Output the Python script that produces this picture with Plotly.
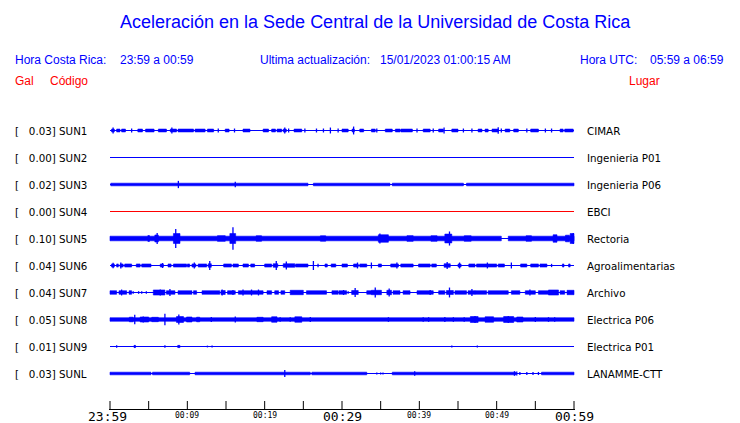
import plotly.graph_objects as go

# ---------------- data ----------------
STATIONS = ["SUN1", "SUN2", "SUN3", "SUN4", "SUN5", "SUN6", "SUN7", "SUN8", "SUN9", "SUNL"]
PEAK_GAL = ["0.03", "0.00", "0.02", "0.00", "0.10", "0.04", "0.04", "0.05", "0.01", "0.03"]
PLACES = ["CIMAR", "Ingenieria P01", "Ingenieria P06", "EBCI", "Rectoria",
          "Agroalimentarias", "Archivo", "Electrica P06", "Electrica P01", "LANAMME-CTT"]

# time axis: minutes after 23:59 (local)
TICK_MINUTES = [0, 5, 10, 15, 20, 25, 30, 35, 40, 45, 50, 55, 60]
BIG_LABELS = {0: "23:59", 30: "00:29", 60: "00:59"}
SMALL_LABELS = {10: "00:09", 20: "00:19", 40: "00:39", 50: "00:49"}

TITLE = "Aceleración en la Sede Central de la Universidad de Costa Rica"

# envelopes: (start_min, end_min, half_amplitude_gal)
sun1_bursts = [(0.2, 0.56, .013), (0.86, 1.29, .013), (1.5, 2.0, .013), (3.6, 4.2, .013), (4.6, 5.7, .013),
               (6.25, 7.3, .013), (7.8, 8.6, .013), (8.8, 10.8, .013), (11.0, 12.3, .013), (12.6, 13.4, .013),
               (14.9, 15.4, .013), (17.2, 18.1, .013), (19.8, 20.5, .013), (20.9, 21.4, .013), (21.6, 22.2, .013),
               (22.4, 22.8, .013), (23.8, 24.8, .013), (30.0, 30.8, .013), (31.3, 31.6, .013), (32.3, 32.8, .013),
               (33.8, 34.3, .013), (35.6, 36.5, .013), (36.9, 37.5, .013), (37.6, 39.1, .013), (40.5, 41.4, .013),
               (42.5, 43.1, .013), (44.2, 45.0, .013), (47.6, 48.1, .013), (48.5, 48.9, .013), (49.4, 50.2, .013),
               (51.1, 51.7, .013), (52.2, 52.8, .013), (54.4, 55.4, .013), (58.2, 58.6, .013), (58.8, 59.9, .013)]
sun1_spikes = [(0.4, .027), (2.8, .018), (8.0, .027), (14.0, .018), (16.1, .018), (22.6, .027), (23.1, .018),
               (25.2, .018), (26.7, .018), (27.6, .018), (28.5, .027), (29.5, .018), (31.5, .036), (34.5, .018),
               (39.7, .018), (41.8, .018), (43.2, .027), (45.7, .018), (46.8, .018), (50.2, .030), (50.6, .018),
               (53.9, .018), (56.3, .018), (57.1, .018)]

sun2_bursts = []
sun2_spikes = []

sun3_bursts = [(0.1, 25.6, .012), (26.3, 36.2, .012), (36.5, 45.7, .012), (46.1, 60.0, .012)]
sun3_spikes = [(8.84, .033), (16.2, .025)]

sun4_bursts = []
sun4_spikes = []

sun5_bursts = [(0.0, 50.6, .021), (51.5, 60.0, .021), (4.9, 5.1, .027), (5.8, 6.25, .032), (8.2, 9.05, .045),
               (13.9, 14.9, .026), (15.5, 16.25, .045), (18.9, 19.6, .025), (27.2, 27.9, .024),
               (34.7, 36.0, .034), (38.4, 39.2, .026), (41.5, 42.3, .025), (43.3, 44.2, .040),
               (45.8, 46.7, .025), (53.8, 54.5, .025), (57.3, 57.8, .034), (58.9, 59.4, .030), (59.5, 60.0, .045)]
sun5_spikes = [(6.1, .050), (8.5, .086), (15.9, .103), (34.9, .045), (43.9, .064), (59.9, .050)]

sun6_bursts = [(0.2, 0.56, .014), (0.86, 1.08, .014), (1.3, 1.7, .014), (1.9, 2.8, .014), (3.4, 3.9, .014),
               (4.1, 5.3, .014), (6.5, 6.9, .014), (7.5, 7.9, .014), (8.2, 9.9, .014), (10.0, 10.3, .014),
               (10.6, 11.1, .014), (11.4, 12.5, .014), (12.7, 13.1, .016), (14.7, 15.7, .014), (15.9, 16.6, .014),
               (17.2, 17.9, .014), (18.2, 18.7, .014), (20.0, 20.9, .014), (21.1, 21.7, .016), (22.4, 23.9, .016),
               (24.0, 25.6, .014), (27.8, 28.1, .014), (28.6, 29.2, .014), (30.0, 30.7, .014), (31.5, 32.1, .014),
               (32.3, 33.2, .014), (34.7, 35.1, .014), (36.3, 37.3, .014), (37.6, 39.2, .014), (39.9, 41.4, .014),
               (41.6, 42.2, .014), (43.2, 44.0, .016), (45.0, 45.4, .014), (46.4, 47.2, .014), (47.4, 50.0, .014),
               (50.2, 51.0, .014), (53.1, 53.9, .014), (54.4, 55.4, .014), (55.6, 56.5, .014), (58.5, 58.7, .014),
               (59.3, 59.5, .014)]
sun6_spikes = [(0.4, .025), (1.4, .027), (6.8, .023), (10.9, .027), (12.9, .041), (21.5, .041), (22.8, .036),
               (26.3, .041), (26.9, .015), (32.0, .027), (33.8, .027), (37.1, .027), (43.6, .032), (45.2, .027),
               (48.8, .027), (51.9, .027), (57.1, .015)]

sun7_bursts = [(0.0, 0.86, .016), (1.16, 2.16, .016), (2.46, 2.8, .016), (5.6, 7.1, .023), (7.3, 8.4, .016),
               (8.8, 10.6, .016), (10.8, 11.2, .016), (11.9, 14.2, .016), (14.35, 14.9, .018), (15.2, 16.2, .016),
               (16.6, 19.8, .016), (20.3, 20.9, .016), (21.3, 21.8, .016), (22.1, 22.6, .016), (23.3, 25.0, .020),
               (25.4, 28.0, .016), (28.7, 29.5, .016), (29.6, 30.6, .016), (31.25, 32.1, .018), (33.2, 33.8, .016),
               (33.8, 35.1, .020), (35.8, 36.4, .020), (36.6, 37.5, .016), (37.9, 38.8, .016), (39.7, 41.8, .016),
               (42.5, 43.3, .016), (43.5, 44.4, .018), (44.6, 46.1, .016), (46.3, 47.2, .016), (47.2, 48.7, .016),
               (48.9, 51.5, .016), (51.9, 53.0, .016), (53.7, 55.0, .016), (55.4, 56.7, .016), (56.7, 58.0, .023),
               (58.2, 58.8, .016), (59.1, 60.0, .020)]
sun7_spikes = [(1.5, .027), (3.0, .012), (3.7, .012), (4.1, .012), (4.7, .012), (6.5, .027), (7.75, .032),
               (14.5, .027), (15.9, .023), (17.2, .027), (18.3, .027), (19.2, .027), (30.2, .023), (30.8, .012),
               (31.7, .041), (34.3, .045), (36.1, .036), (41.4, .023), (43.9, .045), (46.8, .032), (54.3, .027)]

sun8_bursts = [(0.0, 60.0, .016), (2.5, 3.0, .021), (3.9, 5.0, .023), (5.4, 6.25, .020), (8.6, 9.5, .027),
               (9.9, 10.6, .023), (11.2, 11.6, .021), (19.0, 19.8, .020), (20.9, 21.6, .025), (23.9, 24.8, .025),
               (46.6, 47.6, .027), (48.5, 49.6, .025), (50.9, 52.2, .027), (52.6, 53.4, .023)]
sun8_spikes = [(3.2, .043), (4.3, .027), (7.1, .052), (8.9, .045), (13.1, .023), (16.2, .027), (22.0, .021),
               (23.3, .021), (25.9, .023), (36.0, .021), (40.5, .021), (41.2, .021), (43.3, .023), (44.4, .021),
               (45.8, .021), (47.2, .032), (51.5, .032), (55.0, .023), (56.7, .021), (57.5, .021)]

sun9_bursts = [(3.1, 3.3, .010), (8.75, 9.05, .010)]
sun9_spikes = [(0.86, .012), (3.2, .012), (7.1, .012), (8.9, .012), (12.6, .008), (13.2, .008),
               (44.2, .008), (47.5, .008)]

sunl_bursts = [(0.0, 5.3, .012), (5.5, 10.3, .012), (11.0, 25.9, .012), (26.1, 33.2, .012),
               (36.5, 52.5, .012), (55.8, 60.0, .012)]
sunl_spikes = [(22.6, .032), (34.5, .010), (35.0, .010), (35.3, .010), (39.4, .021), (52.3, .021),
               (52.6, .018), (53.0, .014), (53.9, .014), (54.7, .014), (55.4, .014)]

BURSTS = [sun1_bursts, sun2_bursts, sun3_bursts, sun4_bursts, sun5_bursts,
          sun6_bursts, sun7_bursts, sun8_bursts, sun9_bursts, sunl_bursts]
SPIKES = [sun1_spikes, sun2_spikes, sun3_spikes, sun4_spikes, sun5_spikes,
          sun6_spikes, sun7_spikes, sun8_spikes, sun9_spikes, sunl_spikes]

# ---------------- layout / style ----------------
W, H = 740, 423
PX_PER_GAL = 110.0
ROW_PX = 27.0
FIRST_ROW_PX = 130.5
PLOT_LEFT, PLOT_RIGHT = 110, 574
AXIS_PX, TOP_PX = 409, 117
TICK_LEN_PX = 8
PAD = 2  # annotation padding compensation (px)
BLUE = "#0000ff"
RED = "#ff0000"
TRACE_COLOR = {"SUN4": RED}
HEAD_FONT = "Liberation Sans, Arial, sans-serif"
LAB_FONT = "DejaVu Sans, sans-serif"
MONO_FONT = "DejaVu Sans Mono, monospace"

spacing = ROW_PX / PX_PER_GAL
y_top = (FIRST_ROW_PX - TOP_PX) / PX_PER_GAL
y_bot = -(AXIS_PX - FIRST_ROW_PX) / PX_PER_GAL
x_pad = 1.0 * 60 / (PLOT_RIGHT - PLOT_LEFT)


def px_x(p):
    return p / W


def px_y(p):
    return 1 - p / H


fig = go.Figure()
annotations = []

for i, name in enumerate(STATIONS):
    c = -i * spacing
    col = TRACE_COLOR.get(name, BLUE)
    fig.add_trace(go.Scatter(x=[0, 60], y=[c, c], mode="lines",
                             line=dict(color=col, width=1.2), hoverinfo="skip", showlegend=False))
    bx, by = [], []
    for t0, t1, a in BURSTS[i]:
        bx += [t0, t1, t1, t0, t0, None]
        by += [c - a, c - a, c + a, c + a, c - a, None]
    if bx:
        fig.add_trace(go.Scatter(x=bx, y=by, mode="lines", fill="toself", fillcolor=col,
                                 line=dict(color=col, width=0.6), hoverinfo="skip", showlegend=False))
    sx, sy = [], []
    for t, a in SPIKES[i]:
        sx += [t, t, None]
        sy += [c - a, c + a, None]
    if sx:
        fig.add_trace(go.Scatter(x=sx, y=sy, mode="lines",
                                 line=dict(color=col, width=1.3), hoverinfo="skip", showlegend=False))
    annotations.append(dict(xref="paper", yref="y", x=px_x(15 - PAD), y=c, xanchor="left", yanchor="middle",
                            text="[\u00a0\u00a0\u00a0" + PEAK_GAL[i] + "]\u00a0" + name, showarrow=False,
                            font=dict(family=LAB_FONT, size=10.3, color="black")))
    annotations.append(dict(xref="paper", yref="y", x=px_x(587 - PAD), y=c, xanchor="left", yanchor="middle",
                            text=PLACES[i], showarrow=False,
                            font=dict(family=LAB_FONT, size=10.3, color="black")))

# time ticks (drawn upward from the axis line)
tick_top = y_bot + TICK_LEN_PX / PX_PER_GAL
tx, ty = [], []
for m in TICK_MINUTES:
    tx += [m, m, None]
    ty += [y_bot, tick_top, None]
fig.add_trace(go.Scatter(x=tx, y=ty, mode="lines", line=dict(color="black", width=1),
                         hoverinfo="skip", showlegend=False))

for m, lab in BIG_LABELS.items():
    annotations.append(dict(xref="x", yref="paper", x=m, y=px_y(416), xanchor="center", yanchor="middle",
                            xshift=-3 if m == 0 else 0,
                            text=lab, showarrow=False, font=dict(family=MONO_FONT, size=13, color="black")))
for m, lab in SMALL_LABELS.items():
    annotations.append(dict(xref="x", yref="paper", x=m, y=px_y(415.5), xanchor="center", yanchor="middle",
                            text=lab, showarrow=False, font=dict(family=MONO_FONT, size=8, color="black")))


def head(text, x, y, color=BLUE, size=12, anchor="left"):
    annotations.append(dict(xref="paper", yref="paper", x=px_x(x - (PAD if anchor == "left" else 0)),
                            y=px_y(y), xanchor=anchor, yanchor="middle", text=text, showarrow=False,
                            font=dict(family=HEAD_FONT, size=size, color=color)))


head(TITLE, 375, 22, size=18, anchor="center")
head("Hora Costa Rica:", 15, 60)
head("23:59 a 00:59", 120, 60)
head("Ultima actualización:", 260, 60)
head("15/01/2023 01:00:15 AM", 380, 60)
head("Hora UTC:", 580, 60)
head("05:59 a 06:59", 650, 60)
head("Gal", 15, 81, color=RED)
head("Código", 50, 81, color=RED)
head("Lugar", 629, 81, color=RED)

fig.update_layout(
    width=W, height=H, margin=dict(l=0, r=0, t=0, b=0),
    paper_bgcolor="white", plot_bgcolor="white",
    showlegend=False, annotations=annotations,
    xaxis=dict(domain=[px_x(PLOT_LEFT - 1), px_x(PLOT_RIGHT + 1)], range=[-x_pad, 60 + x_pad],
               showticklabels=False, ticks="",
               showline=True, linecolor="black", linewidth=1, showgrid=False, zeroline=False,
               fixedrange=True),
    yaxis=dict(domain=[px_y(AXIS_PX), px_y(TOP_PX)], range=[y_bot, y_top], visible=False,
               showgrid=False, zeroline=False, fixedrange=True),
)

fig.write_html("out.html", config={"displayModeBar": False},
               post_script="document.body.style.margin='0';")
